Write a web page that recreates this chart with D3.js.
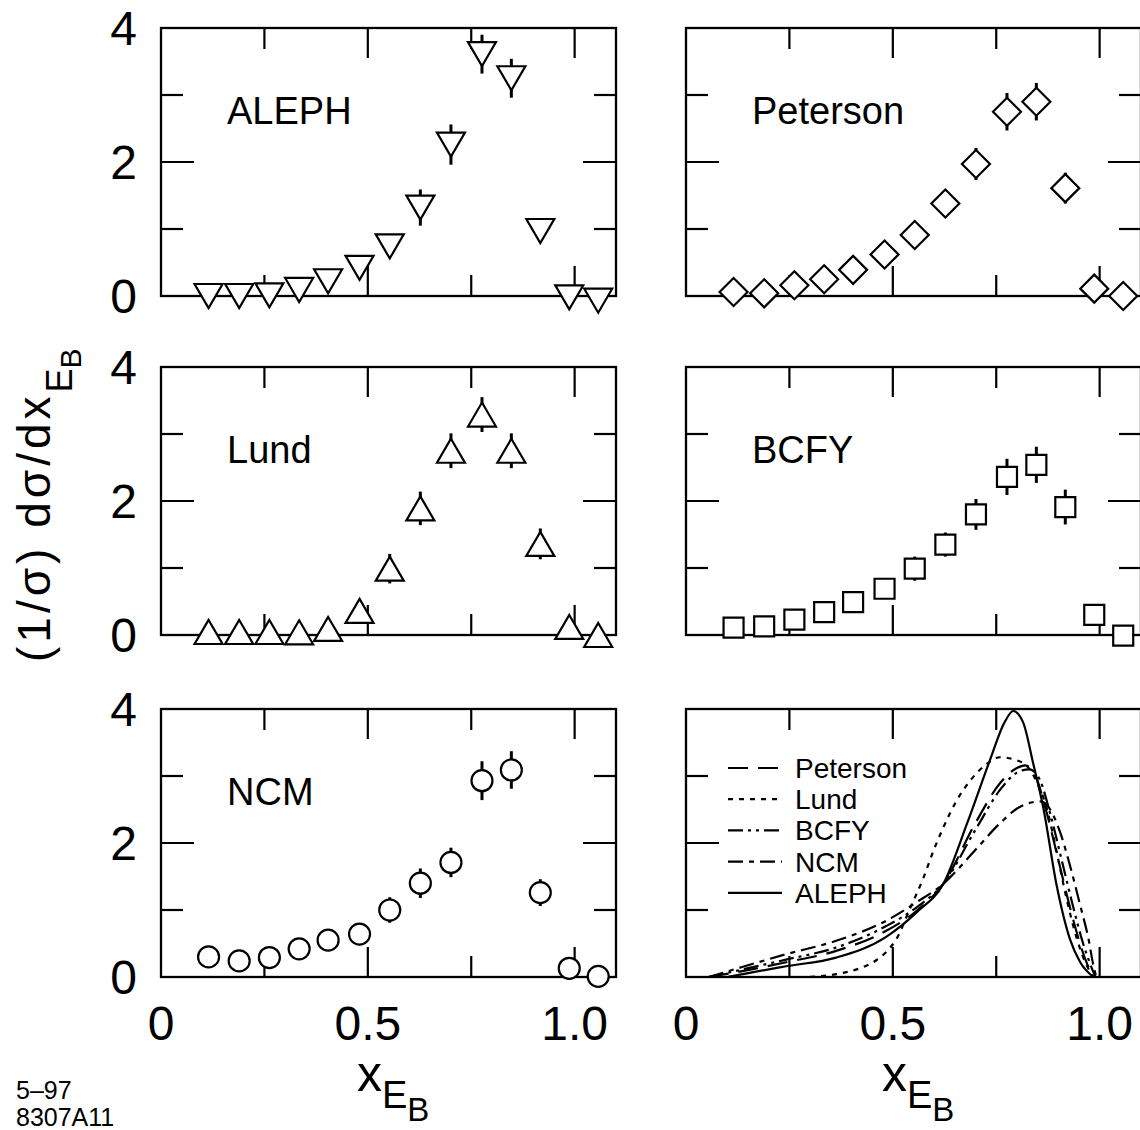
<!DOCTYPE html>
<html>
<head>
<meta charset="utf-8">
<script src="https://d3js.org/d3.v7.min.js"></script>
<style>
  body { margin: 0; background: #fff; }
  svg { font-family: "Liberation Sans", Arial, Helvetica, sans-serif; }
</style>
</head>
<body>
<svg id="chart" width="1140" height="1130"></svg>
<script>
// bin centres in x_EB, shared by every data panel
const xBins = [0.115, 0.189, 0.262, 0.334, 0.404, 0.480, 0.553, 0.627, 0.701, 0.776, 0.847, 0.917, 0.987, 1.057];

const alephVals = [0.0, 0.0, 0.01, 0.09, 0.22, 0.42, 0.74, 1.32, 2.26, 3.61, 3.25, 0.97, -0.02, -0.07];
const alephErrs = [0.05, 0.05, 0.05, 0.05, 0.06, 0.08, 0.1, 0.27, 0.3, 0.29, 0.29, 0.1, 0.05, 0.05];

const petersonVals = [0.06, 0.04, 0.16, 0.25, 0.39, 0.62, 0.91, 1.38, 1.97, 2.75, 2.90, 1.61, 0.11, 0.0];
const petersonErrs = [0.05, 0.05, 0.05, 0.05, 0.06, 0.07, 0.1, 0.15, 0.24, 0.28, 0.28, 0.23, 0.1, 0.05];

const lundVals = [0.045, 0.045, 0.045, 0.04, 0.09, 0.36, 0.99, 1.89, 2.75, 3.29, 2.75, 1.36, 0.12, 0.0];
const lundErrs = [0.05, 0.05, 0.05, 0.05, 0.05, 0.08, 0.22, 0.25, 0.26, 0.26, 0.26, 0.23, 0.05, 0.05];

const bcfyVals = [0.11, 0.13, 0.23, 0.34, 0.49, 0.69, 0.99, 1.35, 1.80, 2.36, 2.54, 1.91, 0.30, -0.01];
const bcfyErrs = [0.05, 0.05, 0.05, 0.05, 0.06, 0.08, 0.18, 0.18, 0.23, 0.27, 0.27, 0.26, 0.1, 0.05];

const ncmVals = [0.30, 0.24, 0.29, 0.42, 0.55, 0.64, 1.0, 1.40, 1.71, 2.93, 3.09, 1.26, 0.13, 0.01];
const ncmErrs = [0.05, 0.05, 0.05, 0.05, 0.06, 0.08, 0.19, 0.22, 0.22, 0.29, 0.28, 0.2, 0.1, 0.05];

// model curves
const petersonCurveX = [0.055, 0.12, 0.242, 0.363, 0.484, 0.56, 0.622, 0.70, 0.76, 0.80, 0.82, 0.845, 0.87, 0.90, 0.93, 0.955, 0.975, 0.985];
const petersonCurveY = [0, 0.07, 0.22, 0.39, 0.69, 1.0, 1.39, 2.3, 2.9, 3.12, 3.16, 3.0, 2.5, 1.75, 1.0, 0.45, 0.12, 0];

const lundCurveX = [0.30, 0.36, 0.42, 0.46, 0.485, 0.51, 0.542, 0.574, 0.598, 0.622, 0.654, 0.687, 0.727, 0.759, 0.791, 0.824, 0.845, 0.872, 0.896, 0.92, 0.945, 0.969, 0.985];
const lundCurveY = [0, 0.04, 0.13, 0.25, 0.38, 0.58, 1.03, 1.48, 1.88, 2.23, 2.63, 2.93, 3.18, 3.28, 3.25, 3.15, 2.95, 2.52, 1.87, 1.17, 0.57, 0.17, 0];

const bcfyCurveX = [0.055, 0.12, 0.242, 0.363, 0.484, 0.56, 0.622, 0.70, 0.76, 0.80, 0.83, 0.855, 0.88, 0.91, 0.94, 0.96, 0.978, 0.99];
const bcfyCurveY = [0, 0.09, 0.26, 0.44, 0.76, 1.05, 1.39, 2.2, 2.8, 3.05, 3.1, 2.95, 2.45, 1.7, 0.95, 0.5, 0.18, 0];

const ncmCurveX = [0.055, 0.12, 0.242, 0.363, 0.484, 0.556, 0.622, 0.70, 0.76, 0.81, 0.856, 0.872, 0.904, 0.928, 0.953, 0.973, 0.985, 0.992];
const ncmCurveY = [0, 0.12, 0.34, 0.54, 0.84, 1.11, 1.39, 1.9, 2.3, 2.55, 2.62, 2.57, 2.17, 1.67, 1.07, 0.57, 0.17, 0];

const alephCurveX = [0.10, 0.16, 0.242, 0.363, 0.484, 0.56, 0.622, 0.68, 0.735, 0.77, 0.791, 0.815, 0.84, 0.864, 0.896, 0.928, 0.953, 0.985];
const alephCurveY = [0, 0.07, 0.16, 0.29, 0.60, 0.98, 1.39, 2.3, 3.24, 3.8, 3.97, 3.8, 3.17, 2.52, 1.37, 0.57, 0.22, 0];

const legendNames = ["Peterson", "Lund", "BCFY", "NCM", "ALEPH"];

const xMajor = [0.5, 1.0], xMinor = [0.25, 0.75];
const yMajor = [2], yMinor = [1, 3];
const xTickLabels = ["0", "0.5", "1.0"];
const xTickVals = [0, 0.5, 1.0];
const yTickLabels = ["0", "2", "4"];
const yTickVals = [0, 2, 4];

// layout
const colLeft = [161, 686];
const rowTop = [28, 367, 709];
const panelW = 455, panelH = 268;

const svg = d3.select("#chart");

const panels = [
    {name: "ALEPH", col: 0, row: 0, vals: alephVals, errs: alephErrs, marker: "down"},
    {name: "Peterson", col: 1, row: 0, vals: petersonVals, errs: petersonErrs, marker: "diamond"},
    {name: "Lund", col: 0, row: 1, vals: lundVals, errs: lundErrs, marker: "up"},
    {name: "BCFY", col: 1, row: 1, vals: bcfyVals, errs: bcfyErrs, marker: "square"},
    {name: "NCM", col: 0, row: 2, vals: ncmVals, errs: ncmErrs, marker: "circle"},
    {name: null, col: 1, row: 2}
];

const curves = [
    {x: petersonCurveX, y: petersonCurveY, dash: "20,10"},
    {x: lundCurveX, y: lundCurveY, dash: "5,6"},
    {x: bcfyCurveX, y: bcfyCurveY, dash: "15,5,3,5,3,5"},
    {x: ncmCurveX, y: ncmCurveY, dash: "15,6,5,6"},
    {x: alephCurveX, y: alephCurveY, dash: null}
];

/** path for a marker centred on 0,0 */
function markerPath(kind) {
    if (kind == "down") return "M-14,-12L14,-12L0,12Z";
    if (kind == "up") return "M0,-12L14,12L-14,12Z";
    if (kind == "diamond") return "M0,-14L14,0L0,14L-14,0Z";
    if (kind == "square") return "M-10,-10H10V10H-10Z";
    let p = d3.path();
    p.arc(0, 0, 10.5, 0, 2 * Math.PI);
    return p.toString();
}

panels.forEach(pn => {
    let x0 = colLeft[pn.col], y0 = rowTop[pn.row];
    let x = d3.scaleLinear().domain([0, 1.1]).range([x0, x0 + panelW]);
    let y = d3.scaleLinear().domain([0, 4]).range([y0 + panelH, y0]);
    let g = svg.append("g");

    // frame
    g.append("rect")
        .attr("x", x0).attr("y", y0).attr("width", panelW).attr("height", panelH)
        .attr("fill", "none").attr("stroke", "#000").attr("stroke-width", 2.3);

    // inward ticks on all four sides
    let xt = xMajor.map(v => ({v: v, len: 30})).concat(xMinor.map(v => ({v: v, len: 21})));
    let yt = yMajor.map(v => ({v: v, len: 33})).concat(yMinor.map(v => ({v: v, len: 22})));
    xt.forEach(t => {
        g.append("line").attr("x1", x(t.v)).attr("x2", x(t.v))
            .attr("y1", y(0)).attr("y2", y(0) - t.len);
        g.append("line").attr("x1", x(t.v)).attr("x2", x(t.v))
            .attr("y1", y(4)).attr("y2", y(4) + t.len);
    });
    yt.forEach(t => {
        g.append("line").attr("y1", y(t.v)).attr("y2", y(t.v))
            .attr("x1", x0).attr("x2", x0 + t.len);
        g.append("line").attr("y1", y(t.v)).attr("y2", y(t.v))
            .attr("x1", x0 + panelW).attr("x2", x0 + panelW - t.len);
    });
    g.selectAll("line").attr("stroke", "#000").attr("stroke-width", 2.2);

    if (pn.col == 0) {
        g.selectAll(".ylab").data(yTickVals).join("text")
            .attr("class", "ylab")
            .attr("x", x0 - 24).attr("y", d => y(d) + 17)
            .attr("text-anchor", "end").attr("font-size", 48)
            .text((d, i) => yTickLabels[i]);
    }
    if (pn.row == 2) {
        g.selectAll(".xlab").data(xTickVals).join("text")
            .attr("class", "xlab")
            .attr("x", d => x(d)).attr("y", y(0) + 63)
            .attr("text-anchor", "middle").attr("font-size", 48)
            .text((d, i) => xTickLabels[i]);
    }

    if (pn.name) {
        g.append("text").attr("x", x0 + 66).attr("y", y0 + 96)
            .attr("font-size", 38).text(pn.name);

        let pts = xBins.map((b, i) => ({x: b, v: pn.vals[i], e: pn.errs[i]}));
        g.selectAll(".err").data(pts).join("line")
            .attr("class", "err")
            .attr("x1", d => x(d.x)).attr("x2", d => x(d.x))
            .attr("y1", d => y(d.v - d.e)).attr("y2", d => y(d.v + d.e))
            .attr("stroke", "#000").attr("stroke-width", 3);
        g.selectAll(".mk").data(pts).join("path")
            .attr("class", "mk")
            .attr("d", markerPath(pn.marker))
            .attr("transform", d => "translate(" + x(d.x) + "," + y(d.v) + ")")
            .attr("fill", "#fff").attr("stroke", "#000").attr("stroke-width", 2.2);
    } else {
        let line = d3.line().x(d => x(d[0])).y(d => y(d[1])).curve(d3.curveMonotoneX);
        curves.forEach((c, i) => {
            g.append("path")
                .attr("d", line(c.x.map((v, j) => [v, c.y[j]])))
                .attr("fill", "none").attr("stroke", "#000").attr("stroke-width", 2.2)
                .attr("stroke-dasharray", c.dash);
            let ly = 768 + i * 31.2;
            g.append("line").attr("x1", x0 + 42).attr("x2", x0 + 96)
                .attr("y1", ly).attr("y2", ly)
                .attr("stroke", "#000").attr("stroke-width", 2.2)
                .attr("stroke-dasharray", c.dash);
            g.append("text").attr("x", x0 + 109).attr("y", ly + 10)
                .attr("font-size", 28).text(legendNames[i]);
        });
    }
});

// x axis titles, x with nested subscripts E and B
colLeft.forEach(c => {
    let t = svg.append("text").attr("x", c + 196).attr("y", 1091).attr("font-size", 50);
    t.append("tspan").text("x");
    t.append("tspan").attr("font-size", 38).attr("dy", 17).text("E");
    t.append("tspan").attr("font-size", 33).attr("dy", 13).text("B");
});

// y axis title
let yt = svg.append("text")
    .attr("transform", "translate(50,662) rotate(-90)")
    .attr("font-size", 46);
yt.append("tspan").attr("letter-spacing", 4).text("(1/σ) dσ/dx");
yt.append("tspan").attr("font-size", 36).attr("dy", 22).text("E");
yt.append("tspan").attr("font-size", 30).attr("dy", 9).text("B");

svg.append("text").attr("x", 16).attr("y", 1099).attr("font-size", 25).text("5–97");
svg.append("text").attr("x", 16).attr("y", 1126).attr("font-size", 25).text("8307A11");
</script>
</body>
</html>
